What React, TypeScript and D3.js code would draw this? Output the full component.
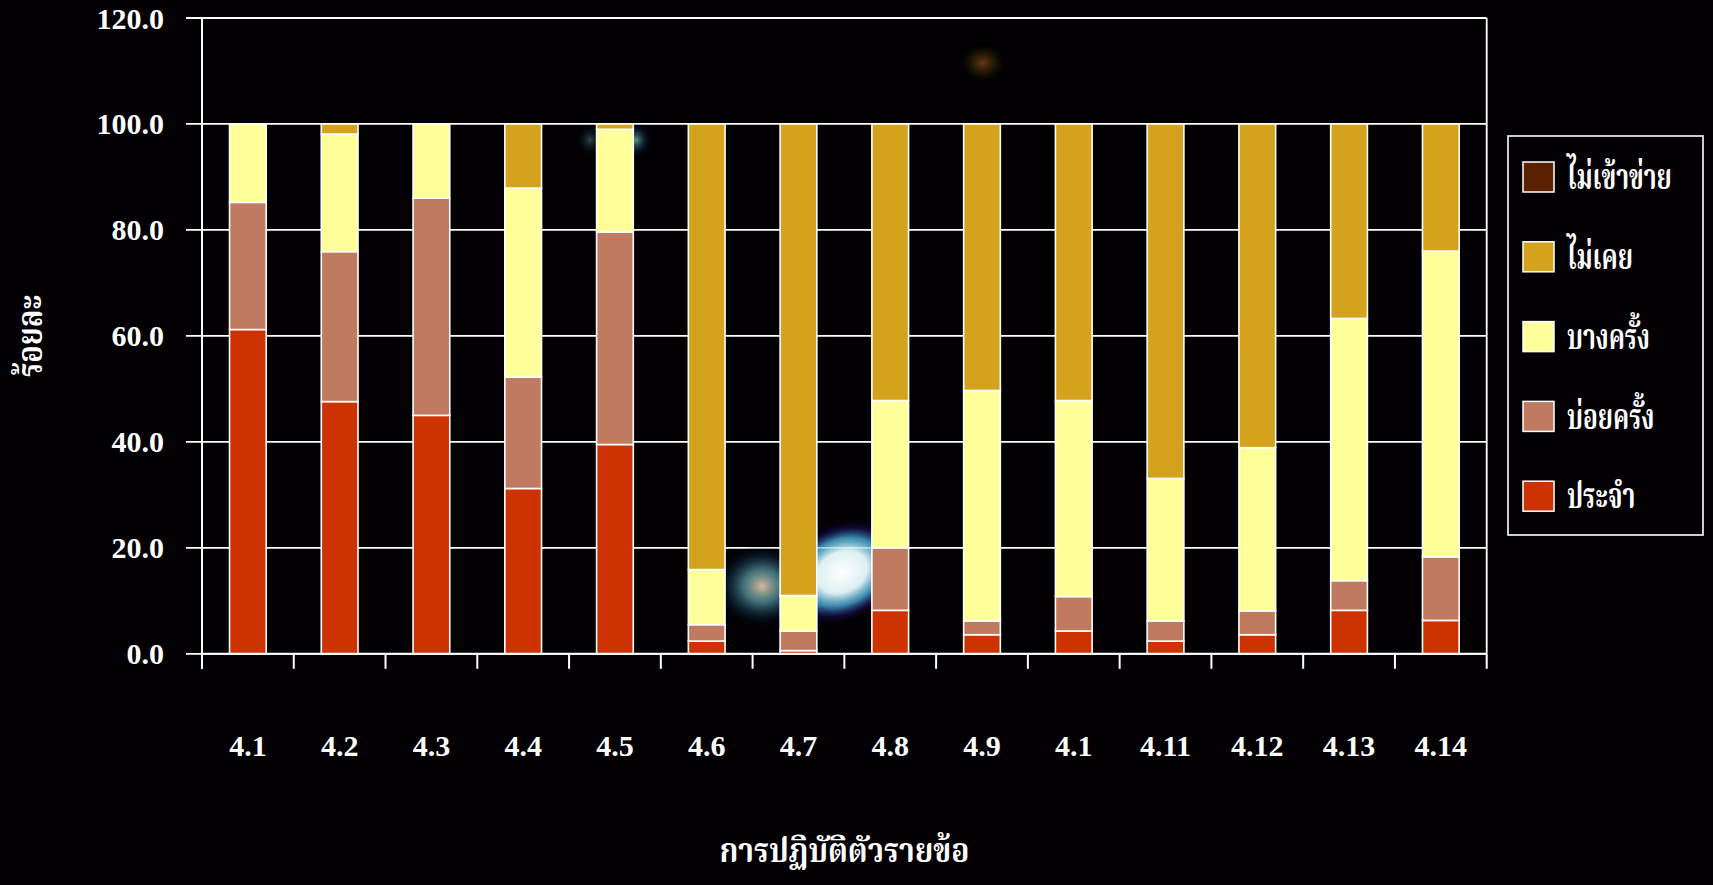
import React from 'react';
import * as d3 from 'd3';

const categories = ['4.1','4.2','4.3','4.4','4.5','4.6','4.7','4.8','4.9','4.1','4.11','4.12','4.13','4.14'];
const seriesNames = ['ประจำ','บ่อยครั้ง','บางครั้ง','ไม่เคย','ไม่เข้าข่าย'];
const seriesColors = ['#CC3300','#C07A60','#FFFF99','#D4A21C','#5C2100'];
const regular = [61.2,47.6,45.0,31.2,39.5,2.4,0.6,8.2,3.6,4.3,2.4,3.6,8.2,6.3];
const often = [24.0,28.3,41.0,21.0,40.1,3.1,3.7,11.8,2.6,6.5,3.8,4.5,5.6,12.0];
const sometimes = [14.8,22.2,14.0,35.7,19.4,10.4,6.7,27.8,43.5,37.0,26.9,30.8,49.5,57.7];
const never = [0,1.9,0,12.1,1.0,84.1,89.0,52.2,50.3,52.2,66.9,61.1,36.7,24.0];
const notApplicable = [0,0,0,0,0,0,0,0,0,0,0,0,0,0];
const yTicks = [0,20,40,60,80,100,120];
const yTitle = 'ร้อยละ';
const xTitle = 'การปฏิบัติตัวรายข้อ';

const W = 1713, H = 885;
const L = 202, R = 1486.7, T = 18, B = 653.8;
const serif = '"Liberation Serif","Times New Roman",serif';
const thai = '"Noto Serif Thai","Noto Sans Thai","Loma","Garuda","Tahoma","Noto Sans",sans-serif';

export default function App() {
  const idx = d3.range(categories.length);
  const x = d3.scaleBand<number>().domain(idx).range([L, R]).paddingInner(0.6).paddingOuter(0.3);
  const y = d3.scaleLinear().domain([0, 120]).range([B, T]);
  const rows = idx.map(i => ({ i, s0: regular[i], s1: often[i], s2: sometimes[i], s3: never[i], s4: notApplicable[i] }));
  const stack = d3.stack<any>().keys(['s0','s1','s2','s3','s4']);
  const layers = stack(rows);
  const step = x.step();
  const bounds = d3.range(categories.length + 1).map(k => L + k * step);
  const legendItems = [4,3,2,1,0];

  return (
    <svg width={W} height={H} style={{ position: 'absolute', left: 0, top: 0, background: '#020003' }}>
      <defs>
        <radialGradient id="g1">
          <stop offset="0%" stopColor="#ffffff" stopOpacity={1} />
          <stop offset="40%" stopColor="#e8fcff" stopOpacity={0.95} />
          <stop offset="65%" stopColor="#50c0f0" stopOpacity={0.7} />
          <stop offset="85%" stopColor="#201080" stopOpacity={0.35} />
          <stop offset="100%" stopColor="#100020" stopOpacity={0} />
        </radialGradient>
        <radialGradient id="g2">
          <stop offset="0%" stopColor="#ffd8b0" stopOpacity={0.85} />
          <stop offset="40%" stopColor="#70c8d8" stopOpacity={0.55} />
          <stop offset="75%" stopColor="#104060" stopOpacity={0.3} />
          <stop offset="100%" stopColor="#080018" stopOpacity={0} />
        </radialGradient>
        <radialGradient id="g3">
          <stop offset="0%" stopColor="#b06018" stopOpacity={0.6} />
          <stop offset="55%" stopColor="#504010" stopOpacity={0.3} />
          <stop offset="100%" stopColor="#000000" stopOpacity={0} />
        </radialGradient>
        <radialGradient id="g4">
          <stop offset="0%" stopColor="#a0f0e0" stopOpacity={0.6} />
          <stop offset="55%" stopColor="#206080" stopOpacity={0.3} />
          <stop offset="100%" stopColor="#001020" stopOpacity={0} />
        </radialGradient>
      </defs>
      <rect x={0} y={0} width={W} height={H} fill="#020003" />
      {/* gridlines */}
      {yTicks.map(t => (
        <line key={'g' + t} x1={L - 16} x2={R} y1={y(t)} y2={y(t)} stroke="#ffffff" strokeWidth={1.8} />
      ))}
      <line x1={R} x2={R} y1={y(120)} y2={y(0)} stroke="#ffffff" strokeWidth={1.8} />
      {/* decorative glows */}
      <ellipse cx={762} cy={586} rx={48} ry={42} fill="url(#g2)" />
      <ellipse cx={842} cy={572} rx={66} ry={50} fill="url(#g1)" transform="rotate(-25 842 572)" />
      <ellipse cx={636} cy={140} rx={16} ry={18} fill="url(#g4)" />
      <ellipse cx={590} cy={140} rx={14} ry={16} fill="url(#g4)" opacity={0.5} />
      <ellipse cx={983} cy={63} rx={24} ry={20} fill="url(#g3)" />
      {/* bars */}
      {layers.map((layer, si) => (
        <g key={si}>
          {layer.map((d, j) => {
            const h = y(d[0]) - y(d[1]);
            if (h <= 0) return null;
            return (
              <rect key={j} x={x(j)} width={x.bandwidth()} y={y(d[1])} height={h}
                fill={seriesColors[si]} stroke="#ffffff" strokeWidth={1.6} />
            );
          })}
        </g>
      ))}
      {/* axes */}
      <line x1={L} x2={L} y1={y(120)} y2={B + 15} stroke="#ffffff" strokeWidth={2} />
      <line x1={L} x2={R} y1={B} y2={B} stroke="#ffffff" strokeWidth={2} />
      {bounds.map((bx, k) => (
        <line key={'t' + k} x1={bx} x2={bx} y1={B} y2={B + 15} stroke="#ffffff" strokeWidth={2} />
      ))}
      {yTicks.map(t => (
        <text key={'yl' + t} x={164} y={y(t)} dy="0.35em" textAnchor="end" fill="#ffffff"
          fontFamily={serif} fontWeight="bold" fontSize={30}>{t.toFixed(1)}</text>
      ))}
      {idx.map(i => (
        <text key={'xl' + i} x={(x(i) as number) + x.bandwidth() / 2} y={756} textAnchor="middle" fill="#ffffff"
          fontFamily={serif} fontWeight="bold" fontSize={30}>{categories[i]}</text>
      ))}
      <text transform={`translate(42, ${(T + B) / 2}) rotate(-90) scale(0.8,1)`} textAnchor="middle" fill="#ffffff"
        fontFamily={thai} fontWeight="bold" fontSize={36}>{yTitle}</text>
      <text transform={`translate(${(L + R) / 2}, 862) scale(0.88,1)`} textAnchor="middle" fill="#ffffff"
        fontFamily={thai} fontWeight="bold" fontSize={34}>{xTitle}</text>
      {/* legend */}
      <rect x={1508} y={136} width={195} height={399} fill="none" stroke="#ffffff" strokeWidth={1.6} />
      {legendItems.map((si, k) => {
        const cy = 177 + k * 79.8;
        return (
          <g key={'lg' + si}>
            <rect x={1523} y={cy - 15} width={31} height={30} fill={seriesColors[si]} stroke="#ffffff" strokeWidth={1.5} />
            <text transform={`translate(1567, ${cy}) scale(0.7,1)`} dy="0.35em" fill="#ffffff"
              fontFamily={thai} fontWeight="bold" fontSize={35}>{seriesNames[si]}</text>
          </g>
        );
      })}
    </svg>
  );
}
